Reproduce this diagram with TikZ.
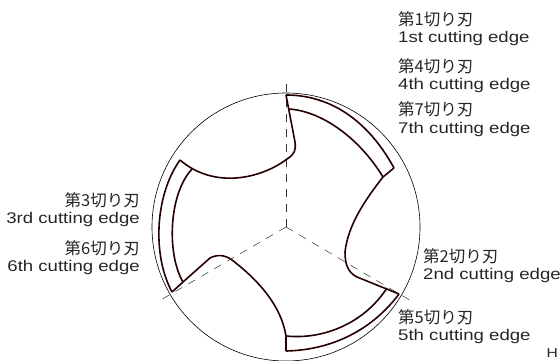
\documentclass[tikz,border=0pt]{standalone}
\usepackage{fontspec}
\setmainfont[FakeStretch=1.2]{Liberation Sans}
\newfontfamily\cjk{Noto Sans CJK JP}
\tikzset{
  edgeline/.style={line width=1.6pt,line join=miter,black!85!red},
  guideline/.style={line width=0.5pt,dash pattern=on 8pt off 7pt,black!80},
  edgelabel/.style={inner sep=0pt,font=\fontsize{15.5}{16}\selectfont,black!85},
}
\newcommand{\jpedge}[1]{{\cjk\fontsize{16.5}{16}\selectfont 第#1切り刃}}

\begin{document}
\begin{tikzpicture}[x=1pt,y=-1pt]
	\useasboundingbox (0,0) rectangle (560,361);

	%% centre of the circle and ends of the guide lines
	\coordinate (O) at (286,227);
	\coordinate (G1) at (286,80);
	\coordinate (G2) at (413,302);
	\coordinate (G3) at (159,301);

	%% tips of the three teeth, outer and inner
	\coordinate (T1) at (286,95);
	\coordinate (I1) at (289,109);
	\coordinate (T2) at (394,168);
	\coordinate (I2) at (383,177);
	\coordinate (T3) at (399,294);
	\coordinate (I3) at (387,288);
	\coordinate (T4) at (286,351);
	\coordinate (I4) at (286,336);
	\coordinate (T5) at (172,292);
	\coordinate (I5) at (183,282);
	\coordinate (T6) at (180,160);
	\coordinate (I6) at (192,169);

	%% guide lines and outer circle
	\draw[guideline] (O) -- (G1);
	\draw[guideline] (O) -- (G2);
	\draw[guideline] (O) -- (G3);
	\draw[line width=0.6pt] (O) circle (134);

	%% lands
	\draw[edgeline] (T1) .. controls (325,95) and (365,115) .. (T2);
	\draw[edgeline] (I1) .. controls (320,111) and (358,136) .. (I2);
	\draw[edgeline] (T3) .. controls (372,330) and (332,350) .. (T4);
	\draw[edgeline] (I3) .. controls (365,322) and (325,340) .. (I4);
	\draw[edgeline] (T5) .. controls (152,255) and (155,195) .. (T6);
	\draw[edgeline] (I5) .. controls (167,255) and (168,195) .. (I6);

	%% flutes
	\draw[edgeline] (T1) -- (295,142) .. controls (296,150) and (295,154) .. (287,159)
	  .. controls (262,178) and (215,190) .. (T6);
	\draw[edgeline] (T2) -- (I2) .. controls (365,200) and (348,225) .. (345,252)
	  .. controls (345,266) and (349,273) .. (357,277) -- (T3);
	\draw[edgeline] (T5) -- (I5) -- (210,258) .. controls (218,254) and (225,255) .. (232,260)
	  .. controls (258,280) and (281,305) .. (I4) -- (T4);

	%% labels
	\foreach \n/\x/\y/\t in {1/398/26/1st,4/398/73/4th,7/398/116/7th,2/423/262/2nd,5/398/323/5th} {
		\node[edgelabel,anchor=base west] (J\n) at (\x,\y) {\jpedge{\n}};
		\node[edgelabel,anchor=base west] (E\n) at (\x,\y+17) {\t\ cutting edge};
	}
	\foreach \n/\y/\t in {3/206/3rd,6/254/6th} {
		\node[edgelabel,anchor=base east] (J\n) at (140,\y) {\jpedge{\n}};
		\node[edgelabel,anchor=base east] (E\n) at (140,\y+17) {\t\ cutting edge};
	}
	\node[edgelabel,anchor=base east,font=\fontsize{13}{14}\selectfont] (H) at (558,357) {H};
\end{tikzpicture}
\end{document}
